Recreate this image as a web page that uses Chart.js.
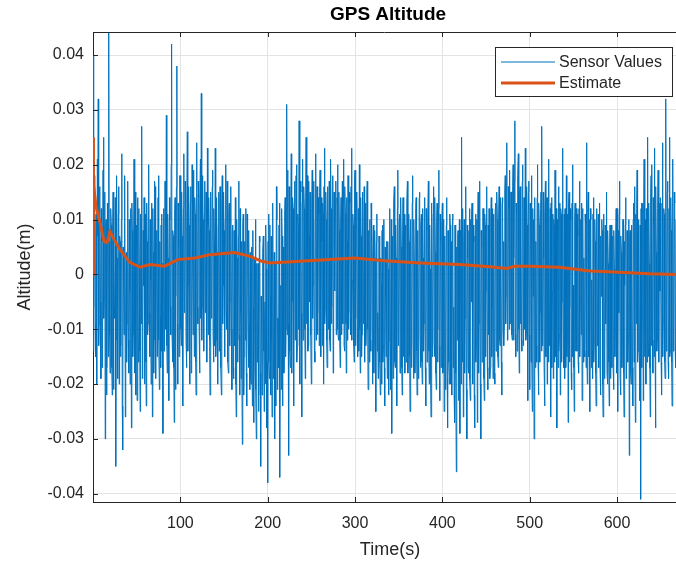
<!DOCTYPE html>
<html>
<head>
<meta charset="utf-8">
<script src="https://cdn.jsdelivr.net/npm/chart.js@4.4.1/dist/chart.umd.min.js"></script>
<style>
  html, body { margin: 0; padding: 0; background: #fff; }
  canvas { display: block; }
</style>
</head>
<body>
<canvas id="altitude-chart" width="676" height="561"></canvas>
<script>
// sensor samples, in millimetres
// sensorMmWhole: at t = 0, 1, 2 ... s ; sensorMmHalf: at t = 0.5, 1.5, 2.5 ... s
const sensorMmWhole = [
  40, -6, 12, -15, 3, 21, 32, -9, 14, -19, 6, -12, 25, -4, -30, 10, -17, 8, 44, -11,
  -14, 9, -22, 15, 2, -8, -35, 18, -5, 11, -20, 6, -13, 22, -32, -1, 13, -26, 4, -9,
  17, -18, -3, 12, -28, 8, -11, 21, -7, -22, 5, 14, -16, 2, -25, 10, 27, -13, -2, -20,
  11, -24, 6, -9, 20, -15, -1, 13, -26, 4, -12, 16, -19, 8, -5, 18, -21, -8, 9, -14,
  -29, 12, -6, 15, 29, -18, 3, -23, 10, -11, 42, -16, 7, -27, 14, -4, 38, -20, 5, -10,
  18, -13, 7, -24, 22, -5, 13, -17, 26, -2, 9, -20, 16, -8, 3, 19, -15, 11, -22, 24,
  -9, 14, -18, 21, 33, -6, 10, -14, 17, 1, -4, 23, -11, 8, -22, 15, -3, 19, -16, 6,
  23, -12, 4, -20, 15, -7, 11, -22, 18, -2, 8, -15, 20, -10, 2, -18, 13, -5, 16, -21,
  9, -19, -4, 14, -26, 3, -12, 17, -22, -7, 6, -31, 11, -15, -1, 12, -24, 5, -17, -9,
  4, -20, -12, 8, -27, -3, 10, -30, -16, 2, -22, 6, -35, -9, -18, 7, -25, -5, 9, -28,
  -38, 11, -19, -4, 7, -26, 13, -12, -30, 2, 16, -21, -8, 9, -37, -2, 12, -24, 5, -15,
  14, -10, 31, 19, -33, 6, -17, 22, -5, 12, -24, 17, -2, 20, -13, 9, 28, -20, 15, -26,
  21, -8, 12, -19, 25, 3, -14, 17, -5, 10, -20, 19, -2, 8, -16, 22, 4, -11, 14, -13,
  19, -15, 6, 13, -20, 23, -6, 10, -17, 16, 1, -12, 21, -9, 5, -18, 15, -3, 17, -10,
  20, -12, 8, -17, 14, 3, -9, 21, -14, 11, -18, 6, 18, -7, 13, -11, 23, -1, 9, -16,
  19, -8, 12, -15, 4, 20, -18, 7, -11, 15, -3, -16, 13, -9, 17, -21, 2, 10, -14, 6,
  -20, 9, -13, 3, -25, 11, -7, -18, 5, -22, -2, 8, -16, 10, -24, -4, 6, -19, 1, -12,
  12, -21, -29, 7, -10, 16, -17, 3, -24, 19, -6, 11, -15, 5, -22, 14, -1, -18, 9, -12,
  17, -14, 6, -25, 10, -8, 18, -19, 2, -11, 14, -22, 7, -4, 15, -17, 11, -20, 3, -9,
  14, -24, 8, -12, 17, -20, 1, -26, 12, -7, 16, -15, 4, -21, 13, -10, 19, -23, 6, -13,
  13, -17, -25, 6, -10, 14, -28, 2, -20, 9, -14, -22, 11, -6, -27, 4, -36, -12, 8, -19,
  -29, 7, 25, -16, -26, 10, -8, 16, -30, 3, -18, 12, -23, -5, 13, -20, 6, -28, 11, -12,
  -27, 15, -9, 17, -30, 5, -14, 12, -23, 9, -3, 16, -21, -11, 8, -17, 14, -6, -19, 11,
  -20, 13, -7, 10, -17, 16, -13, 2, -22, 14, 6, -9, 18, -4, 24, -10, 12, 19, -6, 15,
  -12, 20, 3, 28, -15, 11, -8, 22, -18, 16, 7, -14, 20, -3, 13, 23, -11, 9, -23, 17,
  -21, 10, 18, -25, -4, -30, 14, 6, -16, 20, -22, 9, -7, 15, 27, -12, 3, -24, 17, -9,
  -20, 12, 21, -8, -26, 14, -3, -19, 9, 19, -15, -28, 6, 16, -11, -22, 11, -5, 23, -17,
  -19, 8, 18, -12, -27, 15, -6, 10, -21, 20, -2, -25, 13, -9, -14, 7, -18, 17, -4, -11,
  -23, 12, 3, -15, 9, 24, -20, 15, -8, -25, 10, -1, -19, 14, -12, 6, -24, 11, -5, -17,
  13, -22, -4, 8, -26, 11, -14, -9, 15, -20, 2, -24, 9, -12, -17, 7, -21, 1, -10, 12,
  12, -25, -7, 17, -22, 4, -13, 10, -26, -2, 14, -18, 6, -11, -33, 8, -20, 2, -24, 13,
  16, -27, -9, 19, -14, 5, -23, -41, 13, -6, -23, 21, -10, -20, 8, 25, -15, 2, -26, 18,
  20, -18, 9, 23, -28, 4, -12, 19, -16, -3, 14, -22, 24, -8, 11, -19, 32, -6, 17, -19,
  25, -14, 8, -24, 21, -9, 13, -17
];
const sensorMmHalf = [
  -14, 18, -9, 11, -20, 7, -13, 16, -5, 12, -17, 19, -8, 15, 9, -22, 13, -15, 6, -18,
  12, -17, 8, -21, -6, 14, -12, 3, -19, 16, 7, -15, 10, -24, 5, -11, 18, -7, -16, 9,
  -12, 10, -20, 6, 13, -15, 4, -18, 15, 9, -23, -6, 12, -14, 11, -9, -19, 8, 14, -7,
  -16, 13, -11, 15, -7, 10, -20, 5, 12, -18, 17, -8, 3, -15, 14, -12, 6, -17, 11, 2,
  9, -14, 17, -10, -13, 11, -19, 14, -6, 20, -11, 8, -17, 12, -21, 16, -9, 13, -15, 18,
  -10, 15, -18, 12, -7, 17, -12, 9, -14, 16, -9, 13, -18, 20, -11, 6, 14, -16, 10, -6,
  17, -10, 13, -8, -12, 18, -14, 11, -7, 15, -16, 9, 14, -12, 10, -8, 16, -11, 12, -13,
  -15, 14, -11, 9, -14, 16, -17, 12, -9, 15, -12, 10, -7, 17, -16, 11, -13, 14, -10, 8,
  -17, 8, -13, -20, 10, -16, 7, -11, 12, -19, -14, 9, -22, 6, -12, -18, 11, -9, 8, -21,
  -19, 5, -24, -6, 3, -17, -21, 2, -13, -25, 7, -18, -4, -22, 4, -14, -8, -20, 1, -16,
  6, -16, 9, -22, -12, 8, -19, 4, -14, -24, 10, -8, -17, 13, -10, -21, 7, -13, -18, 11,
  -15, 12, -11, -9, 16, -14, 10, -18, 14, -8, 13, -12, 18, -16, 11, -10, -13, 17, -7, 13,
  -12, 16, -10, 14, -9, 18, -13, 7, 15, -11, 12, -8, 17, -14, 10, -12, 16, -7, 11, 15,
  -11, 14, -13, 11, 16, -9, 15, -12, 8, -10, 17, -14, 12, -6, 18, -13, 9, 13, -11, 14,
  -10, 15, -12, 9, -11, 17, 13, -13, 16, -9, 14, -12, -10, 15, -8, 16, -12, 11, -13, 17,
  -13, 15, -11, 12, -14, -10, 14, -15, 11, -9, 16, 12, -13, 15, -10, 8, -16, -12, 13, -10,
  4, -18, 8, -21, 6, -14, -19, 7, -16, 3, -20, 9, -13, -17, 5, -15, -11, 6, -22, 8,
  -14, 10, 6, -19, 13, -16, 9, -20, 12, -13, 10, -18, 14, -17, 7, -15, 11, 8, -16, 13,
  -18, 11, -15, 9, -17, 13, -12, 10, -18, 12, -14, 8, -19, 14, -11, 9, -16, 12, -14, 10,
  -17, 12, -16, 10, -14, 9, -19, 13, -15, 11, -12, 14, -18, 10, -16, 12, -13, 11, -17, 9,
  -18, 10, 7, -21, 9, -19, 8, -16, 11, -20, 6, 10, -17, -22, 9, -18, 5, 7, -23, 10,
  8, -20, -10, 12, 6, -18, 11, -21, 9, -17, 8, -19, 10, 11, -18, 9, -22, 7, -16, 10,
  10, -18, 11, -20, 8, -16, 12, -19, 11, -15, 13, -17, 9, 12, -19, 10, -15, 12, 9, -18,
  12, -14, 15, -15, 11, -12, 14, -16, 13, -10, -13, 15, -9, 17, -12, 16, -10, -9, 15, -11,
  16, -12, 17, -11, 13, -14, 18, -10, 15, -9, -12, 17, -13, 14, -10, -12, 16, -14, 15, -11,
  13, -16, -14, 12, 10, 12, -17, -13, 14, -15, 13, -16, 12, -14, -13, 15, -17, 11, -15, 14,
  14, -16, -13, 12, 13, -17, 11, 10, -16, -14, 12, 10, -17, -14, 13, 12, -16, 14, -15, 11,
  12, -17, -15, 11, 13, -16, 12, -18, 13, -15, -17, 10, -14, 12, 11, -16, 12, -15, 10, 13,
  11, -16, -14, 11, -17, -13, 12, -15, 10, 12, -17, -14, 11, -16, 10, -18, 12, -13, 11, 10,
  -17, 7, 10, -20, 6, -19, 9, 4, -18, 8, -16, 5, -19, 9, 6, -17, 8, -15, 7, -18,
  -16, 8, 11, -19, 7, -17, 10, -18, 6, 9, -19, 8, -16, 10, 7, -18, 9, -17, 10, -16,
  -14, 11, 12, -16, 10, -15, 9, 12, -17, 13, 11, -15, 10, 12, -16, -12, 13, -17, 14, -13,
  -12, 14, -15, -13, 16, -14, 12, -15, 13, 14, -16, 13, -15, 12, -16, 14, -14, 15, -16, 12,
  -15, 14, -16, 12, -14, 15, -13, 10
];

// filter estimate (orange line), metres
const estimateTime = [0, 0, 1, 3.4, 8, 12.6, 16, 19.5, 23, 31, 42, 54, 65, 82, 97, 117, 134, 162, 180,
  193, 203, 237, 271, 300, 334, 374, 420, 454, 474, 483, 500, 534, 569, 603, 637, 667];
const estimateValues = [0, 0.025, 0.0165, 0.0124, 0.0095, 0.006, 0.0058, 0.0078, 0.0067, 0.0045, 0.0022,
  0.0013, 0.0018, 0.0015, 0.0027, 0.003, 0.0036, 0.004, 0.0033, 0.0024, 0.0021, 0.0024, 0.0027, 0.003,
  0.0025, 0.0021, 0.0018, 0.0014, 0.0011, 0.0015, 0.0015, 0.0013, 0.0006, 0.0004, 0.0001, 0];

const xTicks = [100, 200, 300, 400, 500, 600];
const yTicks = [-0.04, -0.03, -0.02, -0.01, 0, 0.01, 0.02, 0.03, 0.04];
const seriesNames = ['Sensor Values', 'Estimate'];

const BLUE = '#0072BD';
const ORANGE = '#D95319';
const AXIS = '#262626';
const FONT = "'Liberation Sans', Arial, Helvetica, sans-serif";

// interleave the two sample sets in time order, mm -> m
const sensorPoints = [];
sensorMmWhole.forEach((v, i) => {
  sensorPoints.push({ x: i, y: v / 1000 });
  if (i < sensorMmHalf.length) sensorPoints.push({ x: i + 0.5, y: sensorMmHalf[i] / 1000 });
});
const estimatePoints = estimateValues.map((v, i) => ({ x: estimateTime[i], y: v }));

// title, labels, box, inward ticks and legend the MATLAB way
const matlabFrame = {
  id: 'matlabFrame',
  afterDraw(chart) {
    const { ctx, chartArea: a, scales } = chart;
    ctx.save();
    ctx.strokeStyle = AXIS;
    ctx.lineWidth = 1;

    ctx.beginPath();
    ctx.moveTo(a.left, a.top + 0.5);
    ctx.lineTo(a.right, a.top + 0.5);
    ctx.stroke();

    ctx.beginPath();
    xTicks.forEach((t) => {
      const x = Math.round(scales.x.getPixelForValue(t)) + 0.5;
      ctx.moveTo(x, a.top);
      ctx.lineTo(x, a.top + 5);
      ctx.moveTo(x, a.bottom);
      ctx.lineTo(x, a.bottom - 5);
    });
    yTicks.forEach((t) => {
      const y = Math.round(scales.y.getPixelForValue(t)) + 0.5;
      ctx.moveTo(a.left, y);
      ctx.lineTo(a.left + 5, y);
    });
    ctx.stroke();

    // legend
    const lx = 495.5, ly = 47.5, lw = 177, lh = 49;
    ctx.fillStyle = '#fff';
    ctx.fillRect(lx, ly, lw, lh);
    ctx.strokeRect(lx, ly, lw, lh);
    const rows = [{ color: BLUE, width: 1, y: 62 }, { color: ORANGE, width: 3, y: 83 }];
    rows.forEach((r, i) => {
      ctx.beginPath();
      ctx.strokeStyle = r.color;
      ctx.lineWidth = r.width;
      ctx.moveTo(501, r.y);
      ctx.lineTo(555, r.y);
      ctx.stroke();
      ctx.fillStyle = AXIS;
      ctx.font = `16px ${FONT}`;
      ctx.textAlign = 'left';
      ctx.textBaseline = 'middle';
      ctx.fillText(seriesNames[i], 559, r.y + 1);
    });

    // titles
    ctx.fillStyle = '#000';
    ctx.font = `bold 19px ${FONT}`;
    ctx.textAlign = 'center';
    ctx.textBaseline = 'middle';
    ctx.fillText('GPS Altitude', 388, 15);

    ctx.fillStyle = AXIS;
    ctx.font = `18px ${FONT}`;
    ctx.fillText('Time(s)', 390, 550);
    ctx.translate(25, 267);
    ctx.rotate(-Math.PI / 2);
    ctx.fillText('Altitude(m)', 0, 0);
    ctx.restore();
  }
};

new Chart(document.getElementById('altitude-chart'), {
  type: 'line',
  data: {
    datasets: [
      {
        label: seriesNames[0],
        data: sensorPoints,
        borderColor: BLUE,
        borderWidth: 1,
        pointRadius: 0,
        tension: 0,
        order: 2
      },
      {
        label: seriesNames[1],
        data: estimatePoints,
        borderColor: ORANGE,
        borderWidth: 3,
        pointRadius: 0,
        tension: 0,
        order: 1
      }
    ]
  },
  options: {
    responsive: false,
    devicePixelRatio: 1,
    animation: false,
    layout: { padding: { top: 32, right: 0, bottom: 0, left: 0 } },
    plugins: {
      legend: { display: false },
      tooltip: { enabled: false }
    },
    scales: {
      x: {
        type: 'linear',
        min: 0,
        max: 667.5,
        afterBuildTicks: (scale) => { scale.ticks = xTicks.map((v) => ({ value: v })); },
        afterFit: (scale) => { scale.height = 59; },
        grid: { color: '#e3e3e3', drawTicks: false },
        border: { color: AXIS },
        ticks: {
          padding: 12,
          color: AXIS,
          font: { family: FONT, size: 16 },
          maxRotation: 0,
          callback: (v) => String(v)
        }
      },
      y: {
        type: 'linear',
        min: -0.0415,
        max: 0.0442,
        afterBuildTicks: (scale) => { scale.ticks = yTicks.map((v) => ({ value: v })); },
        afterFit: (scale) => { scale.width = 93; },
        grid: { color: '#e3e3e3', drawTicks: false },
        border: { color: AXIS },
        ticks: {
          padding: 9,
          color: AXIS,
          font: { family: FONT, size: 16 },
          callback: (v) => (v === 0 ? '0' : v.toFixed(2))
        }
      }
    }
  },
  plugins: [matlabFrame]
});
</script>
</body>
</html>
